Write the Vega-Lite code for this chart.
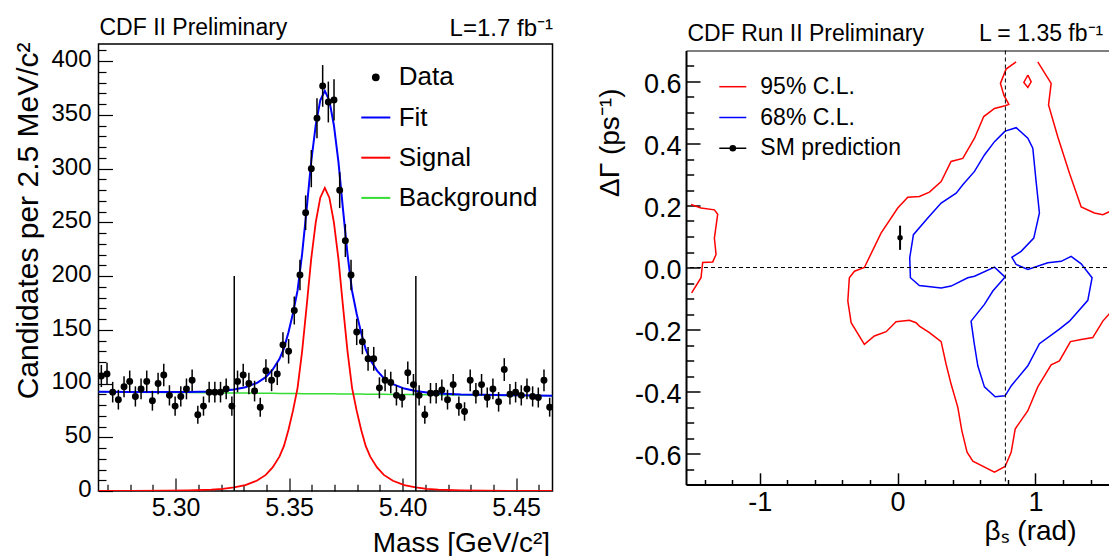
{
"$schema":"https://vega.github.io/schema/vega-lite/v6.json",
"background":"white",
"autosize":{"type":"pad"},
"padding":{"left":11.5,"top":15,"right":0,"bottom":0},
"bounds":"flush",
"center":true,
"spacing":133.5,
"config":{
  "font":"Liberation Sans",
  "view":{"stroke":"black","strokeWidth":1.5},
  "axis":{"labelFont":"Liberation Sans","titleFont":"Liberation Sans","labelColor":"black","titleColor":"black","tickColor":"black","domainColor":"black","titleFontWeight":"normal","grid":false,"labelFlush":false,"labelOverlap":false,"labelBound":false},
  "legend":{"labelFont":"Liberation Sans","labelColor":"black","padding":0}
},
"resolve":{"scale":{"fill":"independent","stroke":"independent","shape":"independent"}},
"datasets":{
  "hist":[
    {"m":5.26725,"n":107,"lo":96.7,"hi":117.3},{"m":5.26975,"n":109,"lo":98.6,"hi":119.4},{"m":5.27225,"n":92,"lo":82.4,"hi":101.6},{"m":5.27475,"n":85,"lo":75.8,"hi":94.2},
    {"m":5.27725,"n":97,"lo":87.2,"hi":106.8},{"m":5.27975,"n":102,"lo":91.9,"hi":112.1},{"m":5.28225,"n":88,"lo":78.6,"hi":97.4},{"m":5.28475,"n":95,"lo":85.3,"hi":104.7},
    {"m":5.28725,"n":102,"lo":91.9,"hi":112.1},{"m":5.28975,"n":84,"lo":74.8,"hi":93.2},{"m":5.29225,"n":100,"lo":90,"hi":110},{"m":5.29475,"n":108,"lo":97.6,"hi":118.4},
    {"m":5.29725,"n":89,"lo":79.6,"hi":98.4},{"m":5.29975,"n":79,"lo":70.1,"hi":87.9},{"m":5.30225,"n":88,"lo":78.6,"hi":97.4},{"m":5.30475,"n":95,"lo":85.3,"hi":104.7},
    {"m":5.30725,"n":103,"lo":92.9,"hi":113.1},{"m":5.30975,"n":71,"lo":62.6,"hi":79.4},{"m":5.31225,"n":79,"lo":70.1,"hi":87.9},{"m":5.31475,"n":92,"lo":82.4,"hi":101.6},
    {"m":5.31725,"n":92,"lo":82.4,"hi":101.6},{"m":5.31975,"n":92,"lo":82.4,"hi":101.6},{"m":5.32225,"n":95,"lo":85.3,"hi":104.7},{"m":5.32475,"n":79,"lo":70.1,"hi":87.9},
    {"m":5.32725,"n":102,"lo":91.9,"hi":112.1},{"m":5.32975,"n":108,"lo":97.6,"hi":118.4},{"m":5.33225,"n":100,"lo":90,"hi":110},{"m":5.33475,"n":93,"lo":83.4,"hi":102.6},
    {"m":5.33725,"n":78,"lo":69.2,"hi":86.8},{"m":5.33975,"n":112,"lo":101.4,"hi":122.6},{"m":5.34225,"n":103,"lo":92.9,"hi":113.1},{"m":5.34475,"n":109,"lo":98.6,"hi":119.4},
    {"m":5.34725,"n":136,"lo":124.3,"hi":147.7},{"m":5.34975,"n":130,"lo":118.6,"hi":141.4},{"m":5.35225,"n":168,"lo":155,"hi":181},{"m":5.35475,"n":201,"lo":186.8,"hi":215.2},
    {"m":5.35725,"n":259,"lo":242.9,"hi":275.1},{"m":5.35975,"n":300,"lo":282.7,"hi":317.3},{"m":5.36225,"n":347,"lo":328.4,"hi":365.6},{"m":5.36475,"n":377,"lo":357.6,"hi":396.4},
    {"m":5.36725,"n":362,"lo":343,"hi":381},{"m":5.36975,"n":364,"lo":344.9,"hi":383.1},{"m":5.37225,"n":280,"lo":263.3,"hi":296.7},{"m":5.37475,"n":233,"lo":217.7,"hi":248.3},
    {"m":5.37725,"n":201,"lo":186.8,"hi":215.2},{"m":5.37975,"n":148,"lo":135.8,"hi":160.2},{"m":5.38225,"n":139,"lo":127.2,"hi":150.8},{"m":5.38475,"n":123,"lo":111.9,"hi":134.1},
    {"m":5.38725,"n":123,"lo":111.9,"hi":134.1},{"m":5.38975,"n":96,"lo":86.2,"hi":105.8},{"m":5.39225,"n":103,"lo":92.9,"hi":113.1},{"m":5.39475,"n":101,"lo":91,"hi":111},
    {"m":5.39725,"n":89,"lo":79.6,"hi":98.4},{"m":5.39975,"n":87,"lo":77.7,"hi":96.3},{"m":5.40225,"n":110,"lo":99.5,"hi":120.5},{"m":5.40475,"n":99,"lo":89.1,"hi":108.9},
    {"m":5.40725,"n":89,"lo":79.6,"hi":98.4},{"m":5.40975,"n":71,"lo":62.6,"hi":79.4},{"m":5.41225,"n":91,"lo":81.5,"hi":100.5},{"m":5.41475,"n":91,"lo":81.5,"hi":100.5},
    {"m":5.41725,"n":94,"lo":84.3,"hi":103.7},{"m":5.41975,"n":85,"lo":75.8,"hi":94.2},{"m":5.42225,"n":99,"lo":89.1,"hi":108.9},{"m":5.42475,"n":79,"lo":70.1,"hi":87.9},
    {"m":5.42725,"n":74,"lo":65.4,"hi":82.6},{"m":5.42975,"n":103,"lo":92.9,"hi":113.1},{"m":5.43225,"n":91,"lo":81.5,"hi":100.5},{"m":5.43475,"n":99,"lo":89.1,"hi":108.9},
    {"m":5.43725,"n":87,"lo":77.7,"hi":96.3},{"m":5.43975,"n":95,"lo":85.3,"hi":104.7},{"m":5.44225,"n":83,"lo":73.9,"hi":92.1},{"m":5.44475,"n":113,"lo":102.4,"hi":123.6},
    {"m":5.44725,"n":90,"lo":80.5,"hi":99.5},{"m":5.44975,"n":92,"lo":82.4,"hi":101.6},{"m":5.45225,"n":89,"lo":79.6,"hi":98.4},{"m":5.45475,"n":95,"lo":85.3,"hi":104.7},
    {"m":5.45725,"n":88,"lo":78.6,"hi":97.4},{"m":5.45975,"n":87,"lo":77.7,"hi":96.3},{"m":5.46225,"n":103,"lo":92.9,"hi":113.1},{"m":5.46475,"n":78,"lo":69.2,"hi":86.8}
  ],
  "curve":[
    {"m":5.2660,"sig":0,"fit":92.3,"bkg":92.3},{"m":5.2807,"sig":0.1,"fit":92.1,"bkg":92.0},{"m":5.2957,"sig":0.3,"fit":92.1,"bkg":91.75},
    {"m":5.3057,"sig":0.6,"fit":92.2,"bkg":91.6},{"m":5.3157,"sig":1.3,"fit":92.7,"bkg":91.4},{"m":5.3207,"sig":2,"fit":93.3,"bkg":91.3},
    {"m":5.3257,"sig":3.3,"fit":94.5,"bkg":91.2},{"m":5.3307,"sig":5.5,"fit":96.6,"bkg":91.1},{"m":5.3357,"sig":9.5,"fit":100.5,"bkg":91.0},
    {"m":5.3397,"sig":15,"fit":105.9,"bkg":90.9},{"m":5.3427,"sig":22,"fit":112.9,"bkg":90.9},{"m":5.3457,"sig":32,"fit":122.8,"bkg":90.8},
    {"m":5.3477,"sig":42,"fit":132.8,"bkg":90.8},{"m":5.3497,"sig":57,"fit":147.8,"bkg":90.75},{"m":5.3517,"sig":75,"fit":165.7,"bkg":90.7},
    {"m":5.3537,"sig":96,"fit":186.7,"bkg":90.7},{"m":5.3557,"sig":130,"fit":220.6,"bkg":90.6},{"m":5.3577,"sig":172,"fit":262.6,"bkg":90.6},
    {"m":5.3597,"sig":216,"fit":306.6,"bkg":90.6},{"m":5.3617,"sig":250,"fit":340.5,"bkg":90.5},{"m":5.3637,"sig":273,"fit":363.5,"bkg":90.5},
    {"m":5.3657,"sig":282,"fit":372.5,"bkg":90.5},{"m":5.3677,"sig":273,"fit":363.4,"bkg":90.4},{"m":5.3697,"sig":250,"fit":340.4,"bkg":90.4},
    {"m":5.3717,"sig":216,"fit":306.3,"bkg":90.3},{"m":5.3737,"sig":172,"fit":262.3,"bkg":90.3},{"m":5.3757,"sig":130,"fit":220.3,"bkg":90.3},
    {"m":5.3777,"sig":96,"fit":186.2,"bkg":90.2},{"m":5.3797,"sig":75,"fit":165.2,"bkg":90.2},{"m":5.3817,"sig":57,"fit":147.2,"bkg":90.2},
    {"m":5.3837,"sig":42,"fit":132.1,"bkg":90.1},{"m":5.3857,"sig":32,"fit":122.1,"bkg":90.1},{"m":5.3887,"sig":22,"fit":112.0,"bkg":90.0},
    {"m":5.3917,"sig":15,"fit":105.0,"bkg":90.0},{"m":5.3957,"sig":9.5,"fit":99.4,"bkg":89.9},{"m":5.4007,"sig":5.5,"fit":95.3,"bkg":89.8},
    {"m":5.4057,"sig":3.3,"fit":93.0,"bkg":89.7},{"m":5.4107,"sig":2,"fit":91.6,"bkg":89.6},{"m":5.4157,"sig":1.3,"fit":90.8,"bkg":89.5},
    {"m":5.4257,"sig":0.6,"fit":89.9,"bkg":89.3},{"m":5.4357,"sig":0.3,"fit":89.5,"bkg":89.2},{"m":5.4507,"sig":0.1,"fit":89.0,"bkg":88.9},
    {"m":5.4660,"sig":0,"fit":88.6,"bkg":88.6}
  ],
  "cuts":[{"m":5.3258,"y0":0,"y1":200},{"m":5.4058,"y0":0,"y1":200}],
  "legL":[{"series":"Data"},{"series":"Fit"},{"series":"Signal"},{"series":"Background"}],
  "red":[
    {"p":"L","o":1,"b":-1.499,"g":0.203},{"p":"L","o":2,"b":-1.426,"g":0.192},{"p":"L","o":3,"b":-1.329,"g":0.186},{"p":"L","o":4,"b":-1.305,"g":0.172},
    {"p":"L","o":5,"b":-1.329,"g":0.095},{"p":"L","o":6,"b":-1.317,"g":0.042},{"p":"L","o":7,"b":-1.341,"g":0.018},{"p":"L","o":8,"b":-1.414,"g":0.016},
    {"p":"L","o":9,"b":-1.426,"g":-0.033},{"p":"L","o":10,"b":-1.494,"g":-0.082},
    {"p":"M","o":1,"b":0.860,"g":0.663},{"p":"M","o":2,"b":0.787,"g":0.640},{"p":"M","o":3,"b":0.746,"g":0.594},{"p":"M","o":4,"b":0.771,"g":0.556},
    {"p":"M","o":5,"b":0.807,"g":0.526},{"p":"M","o":6,"b":0.780,"g":0.522},{"p":"M","o":7,"b":0.703,"g":0.513},{"p":"M","o":8,"b":0.625,"g":0.487},
    {"p":"M","o":9,"b":0.558,"g":0.417},{"p":"M","o":10,"b":0.473,"g":0.352},{"p":"M","o":11,"b":0.388,"g":0.342},{"p":"M","o":12,"b":0.316,"g":0.277},
    {"p":"M","o":13,"b":0.231,"g":0.243},{"p":"M","o":14,"b":0.158,"g":0.229},{"p":"M","o":15,"b":0.074,"g":0.227},{"p":"M","o":16,"b":0.001,"g":0.192},
    {"p":"M","o":17,"b":-0.120,"g":0.111},{"p":"M","o":18,"b":-0.241,"g":0.0},{"p":"M","o":19,"b":-0.313,"g":-0.012},{"p":"M","o":20,"b":-0.350,"g":-0.033},
    {"p":"M","o":21,"b":-0.361,"g":-0.108},{"p":"M","o":22,"b":-0.337,"g":-0.178},{"p":"M","o":23,"b":-0.241,"g":-0.248},{"p":"M","o":24,"b":-0.168,"g":-0.221},
    {"p":"M","o":25,"b":-0.083,"g":-0.207},{"p":"M","o":26,"b":-0.011,"g":-0.175},{"p":"M","o":27,"b":0.086,"g":-0.170},{"p":"M","o":28,"b":0.134,"g":-0.178},
    {"p":"M","o":29,"b":0.158,"g":-0.189},{"p":"M","o":30,"b":0.231,"g":-0.210},{"p":"M","o":31,"b":0.316,"g":-0.239},{"p":"M","o":32,"b":0.352,"g":-0.312},
    {"p":"M","o":33,"b":0.388,"g":-0.376},{"p":"M","o":34,"b":0.437,"g":-0.451},{"p":"M","o":35,"b":0.466,"g":-0.526},{"p":"M","o":36,"b":0.504,"g":-0.596},
    {"p":"M","o":37,"b":0.546,"g":-0.625},{"p":"M","o":38,"b":0.703,"g":-0.660},{"p":"M","o":39,"b":0.780,"g":-0.642},{"p":"M","o":40,"b":0.824,"g":-0.596},
    {"p":"M","o":41,"b":0.853,"g":-0.521},{"p":"M","o":42,"b":0.945,"g":-0.462},{"p":"M","o":43,"b":1.017,"g":-0.385},{"p":"M","o":44,"b":1.114,"g":-0.314},
    {"p":"M","o":45,"b":1.174,"g":-0.301},{"p":"M","o":46,"b":1.254,"g":-0.239},{"p":"M","o":47,"b":1.332,"g":-0.232},{"p":"M","o":48,"b":1.416,"g":-0.226},
    {"p":"M","o":49,"b":1.489,"g":-0.173},{"p":"M","o":50,"b":1.542,"g":-0.146},{"p":"M","o":51,"b":1.58,"g":-0.12},
    {"p":"R","o":1,"b":1.017,"g":0.663},{"p":"R","o":2,"b":1.114,"g":0.594},{"p":"R","o":3,"b":1.095,"g":0.524},{"p":"R","o":4,"b":1.162,"g":0.422},
    {"p":"R","o":5,"b":1.247,"g":0.304},{"p":"R","o":6,"b":1.332,"g":0.195},{"p":"R","o":7,"b":1.428,"g":0.176},{"p":"R","o":8,"b":1.489,"g":0.170},
    {"p":"R","o":9,"b":1.542,"g":0.181},{"p":"R","o":10,"b":1.58,"g":0.19},
    {"p":"D","o":1,"b":0.945,"g":0.621},{"p":"D","o":2,"b":0.969,"g":0.599},{"p":"D","o":3,"b":0.945,"g":0.581},{"p":"D","o":4,"b":0.916,"g":0.597},{"p":"D","o":5,"b":0.945,"g":0.621}
  ],
  "blue":[
    {"p":"B","o":1,"b":0.780,"g":0.440},{"p":"B","o":2,"b":0.860,"g":0.451},{"p":"B","o":3,"b":0.945,"g":0.417},{"p":"B","o":4,"b":0.981,"g":0.385},
    {"p":"B","o":5,"b":1.005,"g":0.277},{"p":"B","o":6,"b":1.029,"g":0.176},{"p":"B","o":7,"b":0.988,"g":0.095},{"p":"B","o":8,"b":0.896,"g":0.052},
    {"p":"B","o":9,"b":0.829,"g":0.033},{"p":"B","o":10,"b":0.860,"g":0.010},{"p":"B","o":11,"b":0.945,"g":-0.006},{"p":"B","o":12,"b":1.090,"g":0.015},
    {"p":"B","o":13,"b":1.187,"g":0.020},{"p":"B","o":14,"b":1.259,"g":0.036},{"p":"B","o":15,"b":1.332,"g":0.012},{"p":"B","o":16,"b":1.411,"g":-0.033},
    {"p":"B","o":17,"b":1.380,"g":-0.106},{"p":"B","o":18,"b":1.247,"g":-0.173},{"p":"B","o":19,"b":1.174,"g":-0.199},{"p":"B","o":20,"b":1.029,"g":-0.246},
    {"p":"B","o":21,"b":0.945,"g":-0.317},{"p":"B","o":22,"b":0.824,"g":-0.382},{"p":"B","o":23,"b":0.780,"g":-0.414},{"p":"B","o":24,"b":0.708,"g":-0.417},
    {"p":"B","o":25,"b":0.630,"g":-0.385},{"p":"B","o":26,"b":0.582,"g":-0.317},{"p":"B","o":27,"b":0.557,"g":-0.248},{"p":"B","o":28,"b":0.533,"g":-0.173},
    {"p":"B","o":29,"b":0.630,"g":-0.119},{"p":"B","o":30,"b":0.691,"g":-0.076},{"p":"B","o":31,"b":0.780,"g":-0.031},{"p":"B","o":32,"b":0.703,"g":0.001},
    {"p":"B","o":33,"b":0.558,"g":-0.028},{"p":"B","o":34,"b":0.509,"g":-0.033},{"p":"B","o":35,"b":0.388,"g":-0.060},{"p":"B","o":36,"b":0.316,"g":-0.066},
    {"p":"B","o":37,"b":0.158,"g":-0.058},{"p":"B","o":38,"b":0.093,"g":-0.033},{"p":"B","o":39,"b":0.088,"g":0.031},{"p":"B","o":40,"b":0.115,"g":0.106},
    {"p":"B","o":41,"b":0.219,"g":0.160},{"p":"B","o":42,"b":0.316,"g":0.208},{"p":"B","o":43,"b":0.425,"g":0.240},{"p":"B","o":44,"b":0.473,"g":0.267},
    {"p":"B","o":45,"b":0.558,"g":0.310},{"p":"B","o":46,"b":0.630,"g":0.363},{"p":"B","o":47,"b":0.703,"g":0.406},{"p":"B","o":48,"b":0.780,"g":0.440}
  ],
  "vref":[{"b":0.782}],
  "href":[{"g":0}],
  "sm":[{"b":0.018,"g":0.096,"lo":0.057,"hi":0.135}],
  "legR":[{"cl":"95% C.L."},{"cl":"68% C.L."},{"cl":"SM prediction"}]
},
"hconcat":[
 {
  "width":454,"height":447,
  "view":{"stroke":"black","strokeWidth":1.5},
  "resolve":{"axis":{"x":"independent","y":"independent"}},
  "layer":[
   {"data":{"name":"curve"},
    "mark":{"type":"line","color":"#33dd33","strokeWidth":1.5,"clip":true},
    "encoding":{
      "x":{"field":"m","type":"quantitative","scale":{"domain":[5.266,5.466],"nice":false,"zero":false},
           "axis":{"orient":"top","ticks":false,"labels":false,"domain":false,"title":"CDF II Preliminary","titleFontSize":23,"titleAlign":"left","titleBaseline":"alphabetic","titleAngle":0,"titleX":0.5,"titleY":-10}},
      "y":{"field":"bkg","type":"quantitative","scale":{"domain":[0,416],"nice":false,"zero":false},"axis":null}}},
   {"data":{"name":"curve"},
    "mark":{"type":"line","color":"#ff0000","strokeWidth":1.8,"clip":true},
    "encoding":{
      "x":{"field":"m","type":"quantitative",
           "axis":{"orient":"top","ticks":false,"labels":false,"domain":false,"title":"L=1.7 fb⁻¹","titleFontSize":24,"titleAlign":"right","titleBaseline":"alphabetic","titleAngle":0,"titleX":454,"titleY":-9}},
      "y":{"field":"sig","type":"quantitative","axis":null}}},
   {"data":{"name":"curve"},
    "mark":{"type":"line","color":"#0000ff","strokeWidth":2,"clip":true},
    "encoding":{
      "x":{"field":"m","type":"quantitative","axis":null},
      "y":{"field":"fit","type":"quantitative","axis":null}}},
   {"data":{"name":"cuts"},
    "mark":{"type":"rule","color":"black","strokeWidth":1.5},
    "encoding":{
      "x":{"field":"m","type":"quantitative",
           "axis":{"orient":"bottom","values":[5.27,5.28,5.29,5.31,5.32,5.33,5.34,5.36,5.37,5.38,5.39,5.41,5.42,5.43,5.44,5.46],"labels":false,"domain":false,"tickSize":-6.7,"tickWidth":1.2,"title":null}},
      "y":{"field":"y0","type":"quantitative",
           "axis":{"orient":"left","values":[10,20,30,40,60,70,80,90,110,120,130,140,160,170,180,190,210,220,230,240,260,270,280,290,310,320,330,340,360,370,380,390,410],"labels":false,"domain":false,"tickSize":-7.5,"tickWidth":1.2,"title":null}},
      "y2":{"field":"y1"}}},
   {"data":{"name":"hist"},
    "mark":{"type":"rule","color":"black","strokeWidth":1.5},
    "encoding":{
      "x":{"field":"m","type":"quantitative","axis":null},
      "y":{"field":"lo","type":"quantitative","axis":null},
      "y2":{"field":"hi"}}},
   {"data":{"name":"hist"},
    "mark":{"type":"point","filled":true,"color":"black","size":48,"opacity":1},
    "encoding":{
      "x":{"field":"m","type":"quantitative",
           "axis":{"orient":"bottom","values":[5.30,5.35,5.40,5.45],"format":".2f","labelFontSize":25,"tickSize":-13,"tickWidth":1.2,"labelPadding":17,"domain":false,
                   "title":"Mass [GeV/c²]","titleFontSize":28,"titleAlign":"right","titleBaseline":"alphabetic","titleAngle":0,"titleX":451,"titleY":60.7}},
      "y":{"field":"n","type":"quantitative",
           "axis":{"orient":"left","values":[0,50,100,150,200,250,300,350,400],"format":"d","labelFontSize":24,"tickSize":-14,"tickWidth":1.2,"labelPadding":21.5,"labelOffset":-1.6,"domain":false,
                   "title":"Candidates per 2.5 MeV/c²","titleFontSize":30,"titleAngle":-90,"titleAlign":"right","titleBaseline":"alphabetic","titleX":-61.5,"titleY":-2}}}},
   {"data":{"name":"legL"},
    "mark":{"type":"point","opacity":0},
    "encoding":{
      "fill":{"field":"series","type":"nominal",
        "scale":{"domain":["Data","Fit","Signal","Background"],"range":["black","#0000ff","#ff0000","#33dd33"]},
        "legend":{"orient":"none","legendX":261.8,"legendY":17.8,"title":null,"labelFontSize":26,"symbolSize":841,"symbolStrokeWidth":2,"symbolOpacity":1,"rowPadding":11.2,"labelOffset":7.4,"padding":0,"direction":"vertical"}},
      "stroke":{"field":"series","type":"nominal",
        "scale":{"domain":["Data","Fit","Signal","Background"],"range":["black","#0000ff","#ff0000","#33dd33"]},
        "legend":{"orient":"none","legendX":261.8,"legendY":17.8,"title":null,"labelFontSize":26,"symbolSize":841,"symbolStrokeWidth":2,"symbolOpacity":1,"rowPadding":11.2,"labelOffset":7.4,"padding":0,"direction":"vertical"}},
      "shape":{"field":"series","type":"nominal",
        "scale":{"domain":["Data","Fit","Signal","Background"],"range":["M-0.2,0A0.2,0.2,0,1,1,0.2,0A0.2,0.2,0,1,1,-0.2,0Z","M-1,0H1","M-1,0H1","M-1,0H1"]},
        "legend":{"orient":"none","legendX":261.8,"legendY":17.8,"title":null,"labelFontSize":26,"symbolSize":841,"symbolStrokeWidth":2,"symbolOpacity":1,"rowPadding":11.2,"labelOffset":7.4,"padding":0,"direction":"vertical"}}}}
  ]
 },
 {
  "width":428,"height":434,
  "view":{"stroke":"black","strokeWidth":1},
  "resolve":{"axis":{"x":"independent","y":"independent"}},
  "layer":[
   {"data":{"name":"red"},
    "mark":{"type":"line","color":"#ff0000","strokeWidth":1.5,"clip":true},
    "encoding":{
      "x":{"field":"b","type":"quantitative","scale":{"domain":[-1.535,1.57],"nice":false,"zero":false},
           "axis":{"orient":"bottom","values":[-1,0,1],"labelExpr":"'' + datum.value","labelFontSize":27,"tickSize":-11.7,"tickWidth":1.5,"labelPadding":16.6,"domain":true,"domainWidth":2,
                   "title":"βₛ (rad)","titleFontSize":28,"titleAlign":"right","titleBaseline":"alphabetic","titleAngle":0,"titleX":390,"titleY":55}},
      "y":{"field":"g","type":"quantitative","scale":{"domain":[-0.7,0.7],"nice":false,"zero":false},
           "axis":{"orient":"left","values":[-0.6,-0.4,-0.2,0,0.2,0.4,0.6],"labelExpr":"datum.value < 0 ? '-' + format(-datum.value, '.1f') : format(datum.value, '.1f')","labelFontSize":27,"tickSize":-14,"tickWidth":1.5,"labelPadding":19,"labelOffset":3.3,"domain":true,"domainWidth":2,
                   "title":"ΔΓ (ps⁻¹)","titleFontSize":28,"titleAngle":-90,"titleAlign":"right","titleBaseline":"alphabetic","titleX":-68,"titleY":37.5}},
      "detail":{"field":"p","type":"nominal"},
      "order":{"field":"o","type":"quantitative"}}},
   {"data":{"name":"blue"},
    "mark":{"type":"line","color":"#0000ff","strokeWidth":1.5,"clip":true},
    "encoding":{
      "x":{"field":"b","type":"quantitative",
           "axis":{"orient":"bottom","values":[-1.4,-1.2,-0.8,-0.6,-0.4,-0.2,0.2,0.4,0.6,0.8,1.2,1.4],"labels":false,"domain":false,"tickSize":-5,"tickWidth":1.5,"title":null}},
      "y":{"field":"g","type":"quantitative",
           "axis":{"orient":"left","values":[-0.65,-0.55,-0.5,-0.45,-0.35,-0.3,-0.25,-0.15,-0.1,-0.05,0.05,0.1,0.15,0.25,0.3,0.35,0.45,0.5,0.55,0.65],"labels":false,"domain":false,"tickSize":-7.7,"tickWidth":1.5,"title":null}},
      "detail":{"field":"p","type":"nominal"},
      "order":{"field":"o","type":"quantitative"}}},
   {"data":{"name":"vref"},
    "mark":{"type":"rule","color":"black","strokeWidth":1,"strokeDash":[4,3]},
    "encoding":{
      "x":{"field":"b","type":"quantitative",
           "axis":{"orient":"top","ticks":false,"labels":false,"domain":false,"title":"CDF Run II Preliminary","titleFontSize":23,"titleAlign":"left","titleBaseline":"alphabetic","titleAngle":0,"titleX":1,"titleY":-10}}}},
   {"data":{"name":"href"},
    "mark":{"type":"rule","color":"black","strokeWidth":1,"strokeDash":[4,3]},
    "encoding":{
      "y":{"field":"g","type":"quantitative","axis":null}}},
   {"data":{"name":"sm"},
    "mark":{"type":"rule","color":"black","strokeWidth":2},
    "encoding":{
      "x":{"field":"b","type":"quantitative",
           "axis":{"orient":"top","ticks":false,"labels":false,"domain":false,"title":"L = 1.35 fb⁻¹","titleFontSize":23,"titleAlign":"right","titleBaseline":"alphabetic","titleAngle":0,"titleX":416.7,"titleY":-10}},
      "y":{"field":"lo","type":"quantitative","axis":null},
      "y2":{"field":"hi"}}},
   {"data":{"name":"sm"},
    "mark":{"type":"point","filled":true,"color":"black","size":30,"opacity":1},
    "encoding":{
      "x":{"field":"b","type":"quantitative","axis":null},
      "y":{"field":"g","type":"quantitative","axis":null}}},
   {"data":{"name":"legR"},
    "mark":{"type":"point","opacity":0},
    "encoding":{
      "fill":{"field":"cl","type":"nominal",
        "scale":{"domain":["95% C.L.","68% C.L.","SM prediction"],"range":["#ff0000","#0000ff","black"]},
        "legend":{"orient":"none","legendX":32.3,"legendY":21.7,"title":null,"labelFontSize":23,"symbolSize":729,"symbolStrokeWidth":1.5,"symbolOpacity":1,"rowPadding":3.8,"labelOffset":13,"padding":0,"direction":"vertical"}},
      "stroke":{"field":"cl","type":"nominal",
        "scale":{"domain":["95% C.L.","68% C.L.","SM prediction"],"range":["#ff0000","#0000ff","black"]},
        "legend":{"orient":"none","legendX":32.3,"legendY":21.7,"title":null,"labelFontSize":23,"symbolSize":729,"symbolStrokeWidth":1.5,"symbolOpacity":1,"rowPadding":3.8,"labelOffset":13,"padding":0,"direction":"vertical"}},
      "shape":{"field":"cl","type":"nominal",
        "scale":{"domain":["95% C.L.","68% C.L.","SM prediction"],"range":["M-1,0H1","M-1,0H1","M-1,0H1M-0.19,0A0.19,0.19,0,1,1,0.19,0A0.19,0.19,0,1,1,-0.19,0Z"]},
        "legend":{"orient":"none","legendX":32.3,"legendY":21.7,"title":null,"labelFontSize":23,"symbolSize":729,"symbolStrokeWidth":1.5,"symbolOpacity":1,"rowPadding":3.8,"labelOffset":13,"padding":0,"direction":"vertical"}}}}
  ]
 }
]
}
